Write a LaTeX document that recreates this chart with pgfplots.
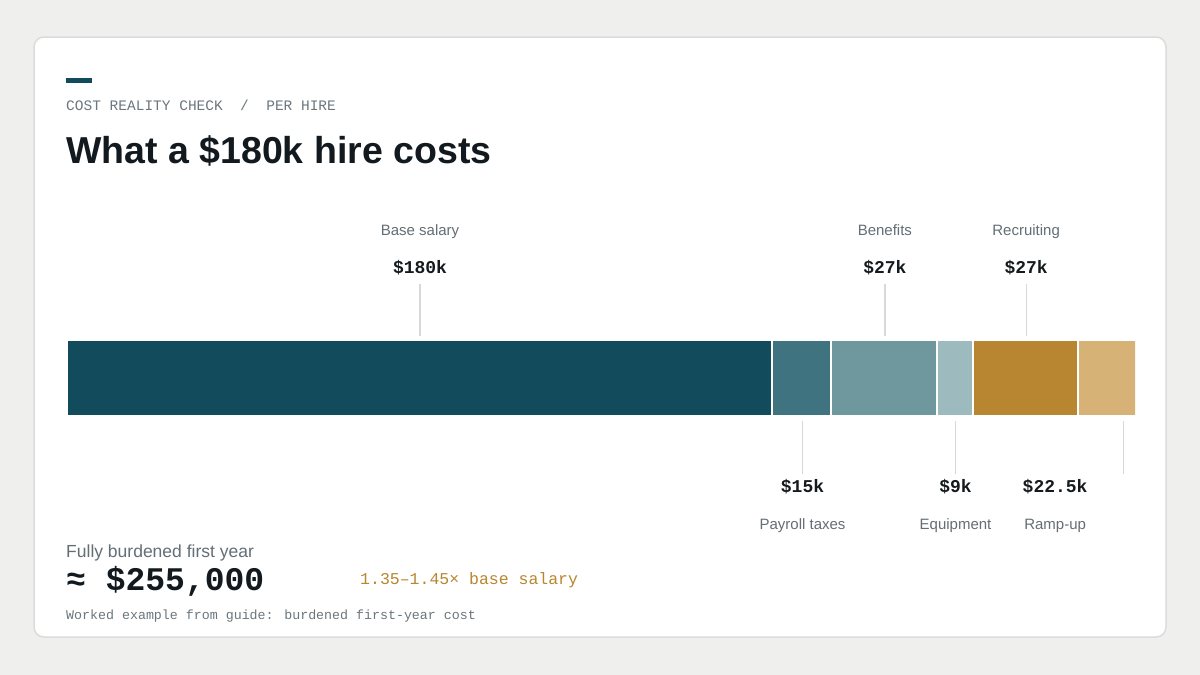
\documentclass[border=0pt]{standalone}
\usepackage{pgfplots}
\pgfplotsset{compat=1.18}
\usepackage{fontspec}
\setmainfont{Liberation Sans}
\newfontfamily\mono{Liberation Mono}
\definecolor{bgc}{HTML}{EFF0EE}
\definecolor{cardb}{HTML}{D9DDDC}
\definecolor{hdr}{HTML}{6B767D}
\definecolor{ttl}{HTML}{121A1F}
\definecolor{lblc}{HTML}{646E74}
\definecolor{valc}{HTML}{151A1D}
\definecolor{gold}{HTML}{B8862F}
\definecolor{lead}{HTML}{D5D9DA}
\definecolor{cA}{HTML}{124B5C}
\definecolor{cB}{HTML}{3F7380}
\definecolor{cC}{HTML}{6E979E}
\definecolor{cD}{HTML}{9DBBBE}
\definecolor{cE}{HTML}{B88531}
\definecolor{cF}{HTML}{D6B277}
\tikzset{
  lbl/.style={anchor=base, inner sep=0, text=lblc, font=\fontsize{15}{18}\selectfont},
  val/.style={anchor=base, inner sep=0, text=valc, font=\mono\bfseries\fontsize{18}{21}\selectfont}}
\begin{document}
\begin{tikzpicture}[x=1pt,y=1pt]
\fill[bgc] (0,0) rectangle (1200,-675);
\filldraw[fill=white, draw=cardb, line width=1.5pt, rounded corners=10pt] (34,-37) rectangle (1166,-637);
\fill[cA] (66,-78) rectangle (92,-83);
\node[anchor=base west, inner sep=0, text=hdr, font=\mono\fontsize{14.5}{17}\selectfont] at (66,-110) {COST REALITY CHECK\ \ /\ \ PER HIRE};
\node[anchor=base west, inner sep=0, text=ttl, font=\bfseries\fontsize{37.5}{42}\selectfont] at (66,-163) {What a \$180k hire costs};

\begin{axis}[at={(66.5pt,-416pt)}, anchor=south west, scale only axis, width=1068.5pt, height=76pt,
  xmin=0, xmax=272.43, ymin=0, ymax=1, hide axis, xbar stacked, bar width=76pt]
\addplot[fill=cA, draw=white, line width=2pt] coordinates {(180,0.5)};
\addplot[fill=cB, draw=white, line width=2pt] coordinates {(15,0.5)};
\addplot[fill=cC, draw=white, line width=2pt] coordinates {(27,0.5)};
\addplot[fill=cD, draw=white, line width=2pt] coordinates {(9,0.5)};
\addplot[fill=cE, draw=white, line width=2pt] coordinates {(27,0.5)};
\addplot[fill=cF, draw=white, line width=2pt] coordinates {(22.5,0.5)};
\end{axis}

\begin{axis}[at={(67pt,-545pt)}, anchor=south west, scale only axis, width=1067pt, height=345pt,
  xmin=0, xmax=272, ymin=-545, ymax=-200, hide axis, clip=false]
\addplot[lead, line width=1.2pt] coordinates {(90,-284) (90,-336)};
\addplot[lead, line width=1.2pt] coordinates {(208.5,-284) (208.5,-336)};
\addplot[lead, line width=1.2pt] coordinates {(244.5,-284) (244.5,-336)};
\addplot[lead, line width=1.2pt] coordinates {(187.5,-421) (187.5,-474)};
\addplot[lead, line width=1.2pt] coordinates {(226.5,-421) (226.5,-474)};
\addplot[lead, line width=1.2pt] coordinates {(269.25,-421) (269.25,-474)};
\node[lbl] at (axis cs:90,-235) {Base salary};
\node[lbl] at (axis cs:208.5,-235) {Benefits};
\node[lbl] at (axis cs:244.5,-235) {Recruiting};
\node[val] at (axis cs:90,-273) {\$180k};
\node[val] at (axis cs:208.5,-273) {\$27k};
\node[val] at (axis cs:244.5,-273) {\$27k};
\node[val] at (axis cs:187.5,-492) {\$15k};
\node[val] at (axis cs:226.5,-492) {\$9k};
\node[val] at (axis cs:251.9,-492) {\$22.5k};
\node[lbl] at (axis cs:187.5,-529) {Payroll taxes};
\node[lbl] at (axis cs:226.5,-529) {Equipment};
\node[lbl] at (axis cs:251.9,-529) {Ramp-up};
\end{axis}

\node[anchor=base west, inner sep=0, text=lblc, font=\fontsize{17.5}{20}\selectfont] at (66,-557) {Fully burdened first year};
\node[anchor=base west, inner sep=0, text=ttl, font=\mono\bfseries\fontsize{33}{36}\selectfont] at (66,-590) {≈ \$255,000};
\node[anchor=base west, inner sep=0, text=gold, font=\mono\fontsize{16.5}{19}\selectfont] at (360,-584) {1.35–1.45× base salary};
\node[anchor=base west, inner sep=0, text=hdr, font=\mono\fontsize{13.3}{16}\selectfont] at (66,-619) {Worked example from guide: burdened first-year cost};
\end{tikzpicture}
\end{document}
